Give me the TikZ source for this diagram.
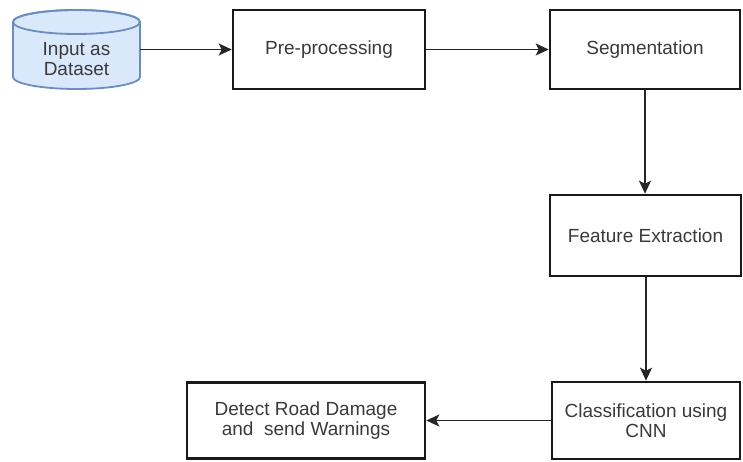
\documentclass[tikz,border=0pt]{standalone}
\usepackage{fontspec}
\setmainfont{Liberation Sans}
\usetikzlibrary{arrows.meta}
\definecolor{txt}{HTML}{3A3A3A}
\definecolor{dbfill}{HTML}{DAE8FC}
\definecolor{dbline}{HTML}{6C8EBF}
\begin{document}
\begin{tikzpicture}[x=1pt,y=1pt,
  box/.style={draw=black!90, line width=2.6pt, fill=white, rectangle, inner sep=0pt,
    align=center, text=txt, font=\fontsize{19}{20}\selectfont},
  conn/.style={draw=black!85, line width=1.8pt, -{Stealth[length=13pt,width=12pt,inset=3pt]}}]
\useasboundingbox (0,0) rectangle (743,461);
\fill[white] (0,0) rectangle (743,461);
% cylinder
\path[fill=dbfill, draw=dbline, line width=1.8pt] (13,439) -- (13,384)
  arc[start angle=180, end angle=360, x radius=63.5, y radius=12] -- (140,439)
  arc[start angle=0, end angle=180, x radius=63.5, y radius=12] -- cycle;
\draw[dbline, line width=1.8pt] (76.5,439) ellipse[x radius=63.5, y radius=12];
\node[rectangle, inner sep=0pt, minimum width=127pt, minimum height=79pt] (in) at (76.5,411.5) {};
\node[align=center, text=txt, font=\fontsize{19}{19.5}\selectfont] (intext) at (76.5,402) {Input as\\Dataset};
% boxes
\node[box, minimum width=192pt, minimum height=79pt] (pre) at (329,411.5) {Pre-processing};
\node[box, minimum width=190pt, minimum height=79pt] (seg) at (645,411.5) {Segmentation};
\node[box, minimum width=191pt, minimum height=81pt] (feat) at (645.5,225.5) {Feature Extraction};
\node[box, minimum width=188pt, minimum height=77pt] (cls) at (646,40.5) {Classification using\\CNN};
\node[box, minimum width=238pt, minimum height=76pt] (det) at (306,40.5) {Detect Road Damage\\and\ \ send Warnings};
% connectors
\draw[conn] (in.east) -- (pre.west);
\draw[conn] (pre.east) -- (seg.west);
\draw[conn] (seg.south) -- (seg.south |- feat.north);
\draw[conn] (feat.south -| cls.north) -- (cls.north);
\draw[conn] (cls.west) -- (det.east);
\end{tikzpicture}
\end{document}
